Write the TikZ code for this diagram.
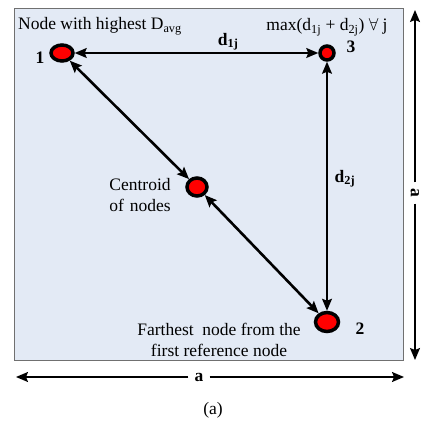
\documentclass[tikz,border=0pt]{standalone}
\usepackage{fontspec}
\setmainfont{Liberation Serif}
\usetikzlibrary{arrows.meta,shapes.geometric}
\definecolor{pane}{HTML}{E3EAF5}
\definecolor{rim}{HTML}{707070}

\begin{document}
\begin{tikzpicture}[x=1pt, y=1pt,
  dot/.style={ellipse, draw=black, line width=3.5pt, fill=red, inner sep=0pt},
  lbl/.style={font=\fontsize{17.5}{21}\selectfont, align=center, inner sep=1pt},
  num/.style={lbl, font=\fontsize{17.5}{21}\selectfont\bfseries},
  thickarr/.style={{Stealth[length=12pt,width=10pt,inset=2pt]}-{Stealth[length=12pt,width=10pt,inset=2pt]}, line width=2.6pt},
  thinarr/.style={{Stealth[length=12pt,width=10pt,inset=2pt]}-{Stealth[length=12pt,width=10pt,inset=2pt]}, line width=1.4pt},
  dimarr/.style={-{Stealth[length=12pt,width=10pt,inset=2pt]}, line width=1.4pt}]
  \useasboundingbox (0,0) rectangle (426,428);
  \draw[rim, fill=pane, line width=1pt] (14,67) rectangle (403,419);
  % nodes
  \node[dot, minimum width=22pt, minimum height=16pt] (n1) at (62,375) {};
  \node[dot, minimum width=14pt, minimum height=14pt] (n3) at (327,375) {};
  \node[dot, minimum width=20pt, minimum height=18pt] (cen) at (197,241) {};
  \node[dot, minimum width=23pt, minimum height=19pt] (n2) at (327,106) {};
  % labels
  \node[num] (l1) at (40,370) {1};
  \node[num] (l3) at (351,381) {3};
  \node[num] (l2) at (360,99) {2};
  \node[lbl, anchor=west] (top) at (17,402) {Node with highest D\textsubscript{avg}};
  \node[lbl] (mx) at (327,401) {max(d\textsubscript{1j} + d\textsubscript{2j}) $\forall$ j};
  \node[lbl, text width=80pt] (ctr) at (140,233) {Centroid\\of nodes};
  \node[lbl] (far) at (219,88) {Farthest\ \ node from the\\first reference node};
  % connectors
  \draw[thinarr] (n1) -- node[num, above=1pt, pos=0.63] (d1) {d\textsubscript{1j}} (n3);
  \draw[thinarr] (n3) -- node[num, right=6pt, pos=0.47] (d2) {d\textsubscript{2j}} (n2);
  \draw[thickarr] (n1) -- (cen);
  \draw[thickarr] (cen) -- (n2);
  % side lengths
  \coordinate (al) at (16,51);
  \coordinate (ar) at (404,51);
  \node[num, inner sep=6pt] (ab) at (199,51) {a};
  \draw[dimarr] (ab) -- (al);
  \draw[dimarr] (ab) -- (ar);
  \coordinate (at) at (415,418);
  \coordinate (aw) at (415,68);
  \node[num, rotate=-90, inner sep=6pt] (ar2) at (415,235) {a};
  \draw[dimarr] (ar2) -- (at);
  \draw[dimarr] (ar2) -- (aw);
  \node[lbl] (cap) at (213,18) {(a)};
\end{tikzpicture}
\end{document}
